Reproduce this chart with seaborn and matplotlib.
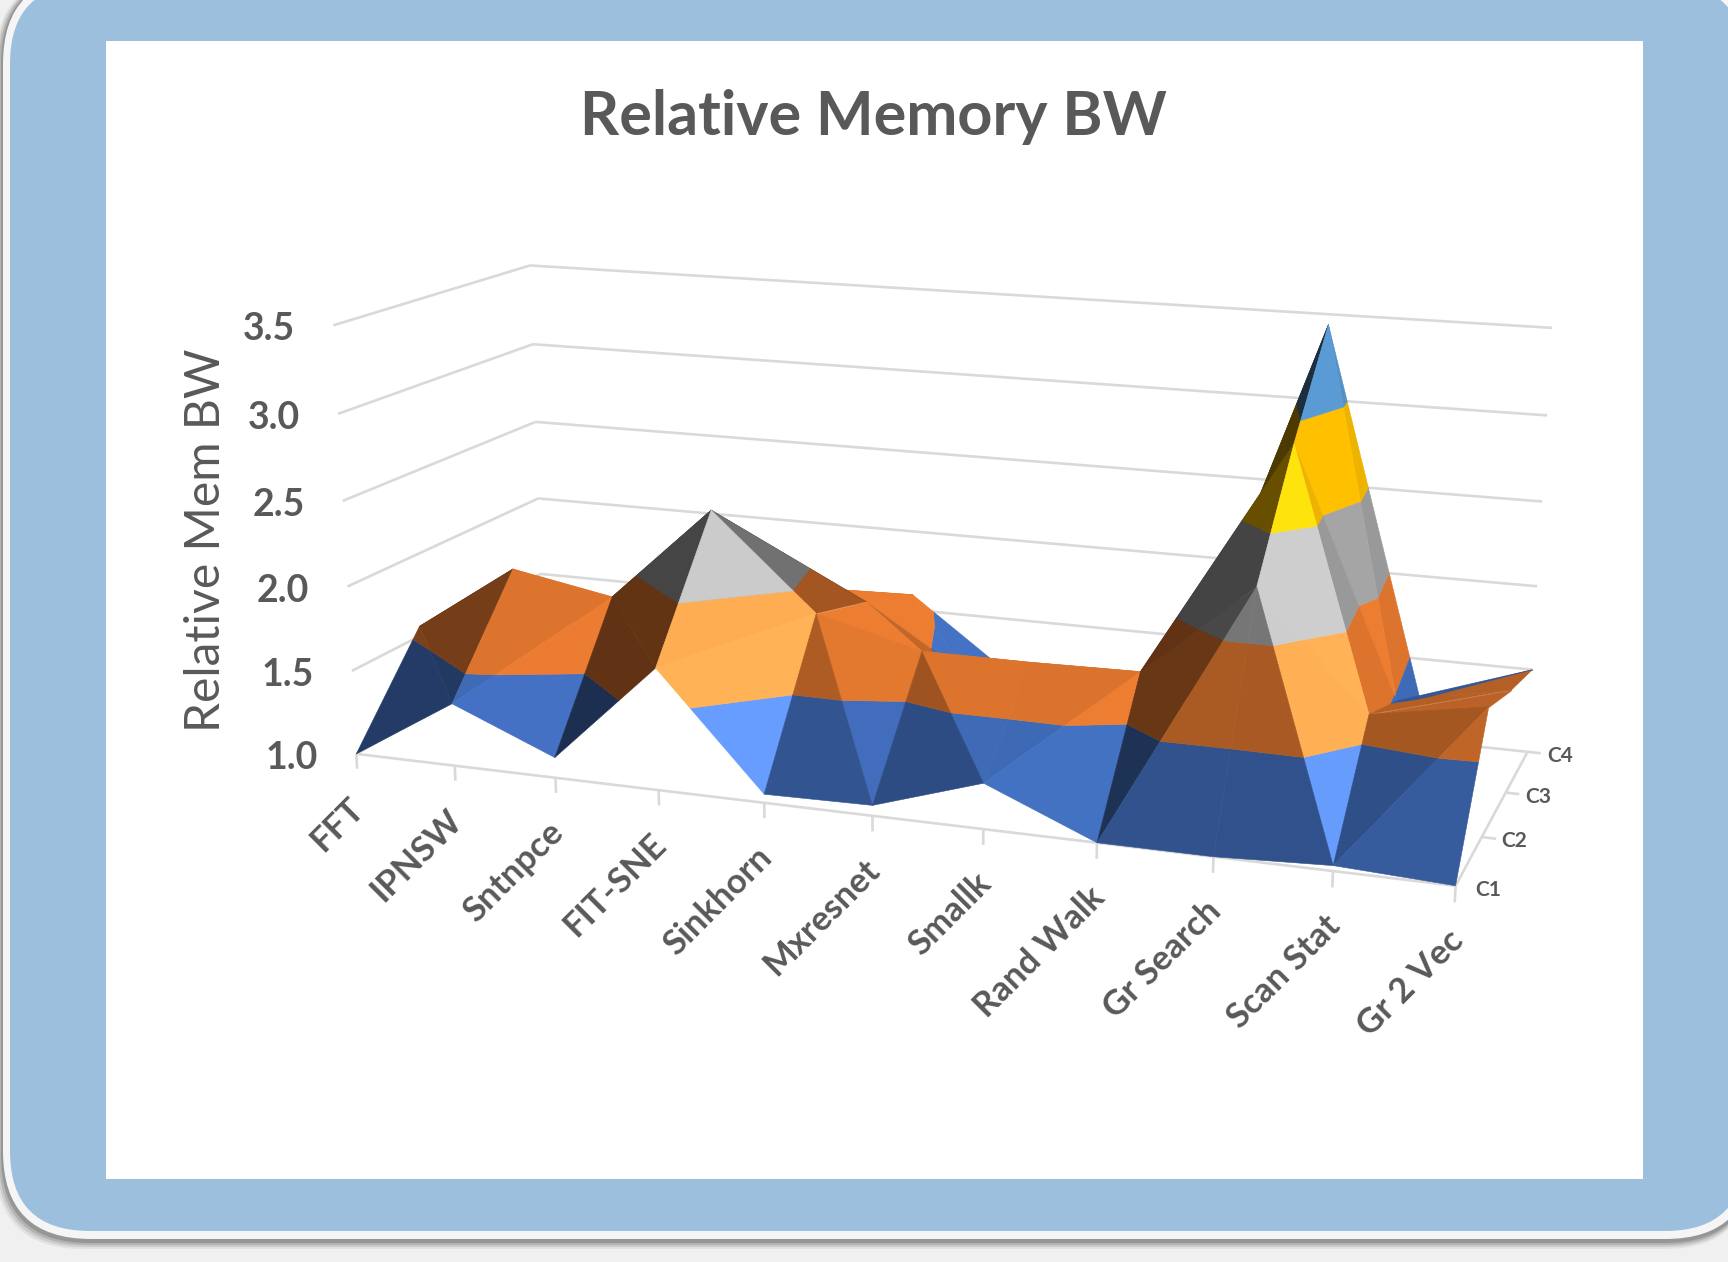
import numpy as np
import seaborn as sns
import matplotlib
matplotlib.use('Agg')
import matplotlib.pyplot as plt
from matplotlib.patches import FancyBboxPatch, Rectangle
from mpl_toolkits.mplot3d.art3d import Poly3DCollection, Line3DCollection

# Chart values
workloads = ['FFT', 'IPNSW', 'Sntnpce', 'FIT-SNE', 'Sinkhorn', 'Mxresnet',
             'Smallk', 'Rand Walk', 'Gr Search', 'Scan Stat', 'Gr 2 Vec']
series_names = ['C1', 'C2', 'C3', 'C4']
c1 = [1.00, 1.37, 1.12, 1.71, 1.05, 1.06, 1.26, 1.00, 1.00, 1.03, 1.00]
c2 = [1.56, 1.97, 1.86, 2.43, 1.88, 1.72, 1.72, 1.73, 2.27, 1.62, 1.73]
c3 = [1.40, 1.45, 1.50, 1.80, 1.75, 1.36, 1.25, 1.33, 2.90, 1.47, 1.60]
c4 = [1.30, 1.35, 1.40, 1.50, 1.60, 1.15, 1.15, 1.20, 3.44, 1.23, 1.50]
z_ticks = [1.0, 1.5, 2.0, 2.5, 3.0, 3.5]

# Value bands of the surface and their colours
band_edges = [1.0, 1.5, 2.0, 2.5, 3.0, 3.5]
band_colors = ['#4472C4', '#ED7D31', '#A5A5A5', '#FFC000', '#5B9BD5']
band_gain = [0.85, 1.0, 0.65, 0.5, 1.0]

# Which way each cell of the grid is cut into two triangles (row, column)
# 0: (i, j)-(i+1, j+1)   1: (i, j+1)-(i+1, j)
cell_cuts = [[1, 0, 1, 0, 1, 1, 0, 0, 1, 0],
             [0, 0, 0, 0, 1, 0, 0, 0, 1, 0],
             [0, 0, 0, 0, 1, 0, 0, 0, 1, 0]]

# Box corners and wall gridlines in the picture, to calibrate the camera
# (column, row, value) -> pixel of the 1568 wide view
camera_world = [(0, 0, 1.0), (0, 0, 1.5), (0, 0, 2.0), (0, 0, 2.5), (0, 0, 3.0), (0, 0, 3.5),
                (0, 3, 1.0), (0, 3, 2.0), (0, 3, 2.5), (0, 3, 3.0), (0, 3, 3.5),
                (10, 3, 1.0), (10, 3, 1.5), (10, 3, 2.0), (10, 3, 2.5), (10, 3, 3.0), (10, 3, 3.5),
                (10, 0, 1.0)]
camera_image = [(324, 682), (320, 608), (315, 533), (311, 455), (305, 376), (302, 297),
                (492, 591), (488, 451), (487, 382), (484, 311), (482, 241),
                (1385, 683), (1390, 608), (1396, 532), (1400, 455), (1403, 377), (1408, 297),
                (1322, 803)]

W, H = 1728, 1262
view_scale = W / 1568
grey_text = '#595959'
grid_color = '#D9D9D9'

sns.set_theme(style='white')
plt.rcParams['font.family'] = ['Lato', 'DejaVu Sans']

fig = plt.figure(figsize=(W / 100, H / 100), dpi=100, facecolor='#F0F0F0')

# Rounded slide frame and the white chart area
bg = fig.add_axes([0, 0, 1, 1])
bg.set_xlim(0, W)
bg.set_ylim(H, 0)
bg.axis('off')
for grow, alpha in [(7, 0.06), (5, 0.09), (3, 0.12), (1, 0.16)]:
    bg.add_patch(FancyBboxPatch((2 - grow, -24), 1751 + grow, 1263 + grow + 3,
                                boxstyle='round,pad=0,rounding_size=88',
                                fc='black', ec='none', alpha=alpha))
bg.add_patch(FancyBboxPatch((3, -24), 1750, 1263, boxstyle='round,pad=0,rounding_size=88',
                            fc='#F5F5F5', ec='none'))
bg.add_patch(FancyBboxPatch((10, -16), 1735, 1247, boxstyle='round,pad=0,rounding_size=80',
                            fc='#9BBFDD', ec='none'))
bg.add_patch(Rectangle((106, 41), 1537, 1138, fc='white', ec='none'))

bg.text(873, 117, 'Relative Memory BW', ha='center', va='center', fontsize=44,
        fontweight='bold', color=grey_text)
bg.text(206, 540, 'Relative Mem BW', ha='center', va='center', rotation=90,
        fontsize=34.5, color=grey_text)


# Fit the 3x4 camera matrix to the calibration points
def fit_camera(world, image):
    rows = []
    for (x, y, z), (u, v) in zip(world, image):
        u, v = u * view_scale / 1000, v * view_scale / 1000
        rows.append([x, y, z, 1, 0, 0, 0, 0, -u * x, -u * y, -u * z, -u])
        rows.append([0, 0, 0, 0, x, y, z, 1, -v * x, -v * y, -v * z, -v])
    p = np.linalg.svd(np.array(rows))[2][-1].reshape(3, 4)
    return np.diag([1000, 1000, 1]) @ p


camera = fit_camera(camera_world, camera_image)


def to_pixel(x, y, z):
    u, v, w = camera @ [x, y, z, 1]
    return u / w, v / w


# square axes that cover the figure, so nothing gets clipped
ax = fig.add_axes([0, (H - W) / 2 / H, 1, W / H], projection='3d', computed_zorder=False)
ax.set_axis_off()
ax.patch.set_visible(False)


def get_proj():
    to_display = np.array([[1, 0, 0], [0, -1, H], [0, 0, 1]], dtype=float)
    to_data = np.linalg.inv(ax.transData.get_affine().get_matrix())
    q = to_data @ to_display @ camera
    return np.vstack([q[0], q[1], [0, 0, 0, 1], q[2]])


ax.get_proj = get_proj
ax.set_xlim(0, 10)
ax.set_ylim(0, 3)
ax.set_zlim(1, 3.5)

# Walls, floor edges and ticks
wall = []
for v in z_ticks:
    wall.append([(0, 0, v), (0, 3, v)])
    wall.append([(0, 3, v), (10, 3, v)])
wall.append([(0, 0, 1), (10, 0, 1)])
wall.append([(10, 0, 1), (10, 3, 1)])
for i in range(len(workloads)):
    wall.append([(i, 0, 1), (i, 0, 0.91)])
for j in range(1, len(series_names)):
    wall.append([(10, j, 1), (10.12, j, 1)])
ax.add_collection3d(Line3DCollection(wall, colors=grid_color, linewidths=1.9, zorder=1))


def clip_band(poly, lo, hi):
    for limit, sign in [(lo, 1), (hi, -1)]:
        out = []
        for a, b in zip(poly, poly[1:] + poly[:1]):
            da, db = sign * (a[2] - limit), sign * (b[2] - limit)
            if da >= 0:
                out.append(a)
            if da * db < 0:
                t = da / (da - db)
                out.append(tuple(np.array(a) + t * (np.array(b) - np.array(a))))
        poly = out
        if not poly:
            break
    return poly


def shade_color(hex_color, gain, tri):
    pts = np.array(tri) * [1, 1, 1.5]
    n = np.cross(pts[1] - pts[0], pts[2] - pts[0])
    n = n / np.linalg.norm(n)
    if n[2] < 0:
        n = -n
    g = n @ np.array([0.6, -0.6, 0.5])
    f = np.interp(g, [0.2, 0.38, 0.5, 0.65, 0.77, 0.84, 0.91, 0.98, 1.0],
                  [0.3, 0.42, 0.55, 0.68, 0.72, 0.93, 1.0, 1.35, 1.4])
    # nearly flat facets are lit from above, steep right sides stay lit too
    f = max(f, np.interp(n[2], [0.7, 0.8], [0, 1]) * min(0.93 + 0.9 * n[0], 1.0))
    f = max(f, np.interp(n[0], [0.7, 0.9], [0, 0.93]))
    if f > 1:
        f = 1 + (f - 1) * gain
    rgb = np.clip(np.array(matplotlib.colors.to_rgb(hex_color)) * f, 0, 1)
    if f > 1:
        rgb = rgb + (1 - rgb) * (f - 1) * 0.3
    return tuple(rgb)


surface = np.array([c1, c2, c3, c4])
order = 10
# back rows first, left (far) columns first
for j in range(surface.shape[0] - 2, -1, -1):
    for i in range(surface.shape[1] - 1):
        a = (i, j, surface[j, i])
        b = (i + 1, j, surface[j, i + 1])
        c = (i + 1, j + 1, surface[j + 1, i + 1])
        d = (i, j + 1, surface[j + 1, i])
        if cell_cuts[j][i] == 0:
            tris = [[a, c, d], [a, b, c]]
        else:
            tris = [[d, b, c], [a, b, d]]
        for tri in tris:
            polys, colors = [], []
            for k, band in enumerate(band_colors):
                piece = clip_band(tri, band_edges[k], band_edges[k + 1])
                if len(piece) >= 3:
                    polys.append(piece)
                    colors.append(shade_color(band, band_gain[k], tri))
            coll = Poly3DCollection(polys, facecolors=colors, edgecolors=colors,
                                    linewidths=0.4, zorder=order)
            ax.add_collection3d(coll)
            order += 1

# Value, series and category labels, placed next to the projected box edges
for v in z_ticks:
    px, py = to_pixel(0, 0, v)
    bg.text(px - 38, py + 4, f'{v:.1f}', ha='right', va='center', fontsize=27,
            fontweight='bold', color=grey_text)
for j, name in enumerate(series_names):
    px, py = to_pixel(10, j, 1)
    bg.text(px + 20, py + 4, name, ha='left', va='center', fontsize=15,
            fontweight='bold', color=grey_text)
for i, name in enumerate(workloads):
    px, py = to_pixel(i, 0, 1)
    bg.text(px - 9, py + 38, name, ha='right', va='top', rotation=45, rotation_mode='anchor',
            fontsize=25, fontweight='bold', color=grey_text)

fig.savefig('out.png', dpi=100, facecolor=fig.get_facecolor())
